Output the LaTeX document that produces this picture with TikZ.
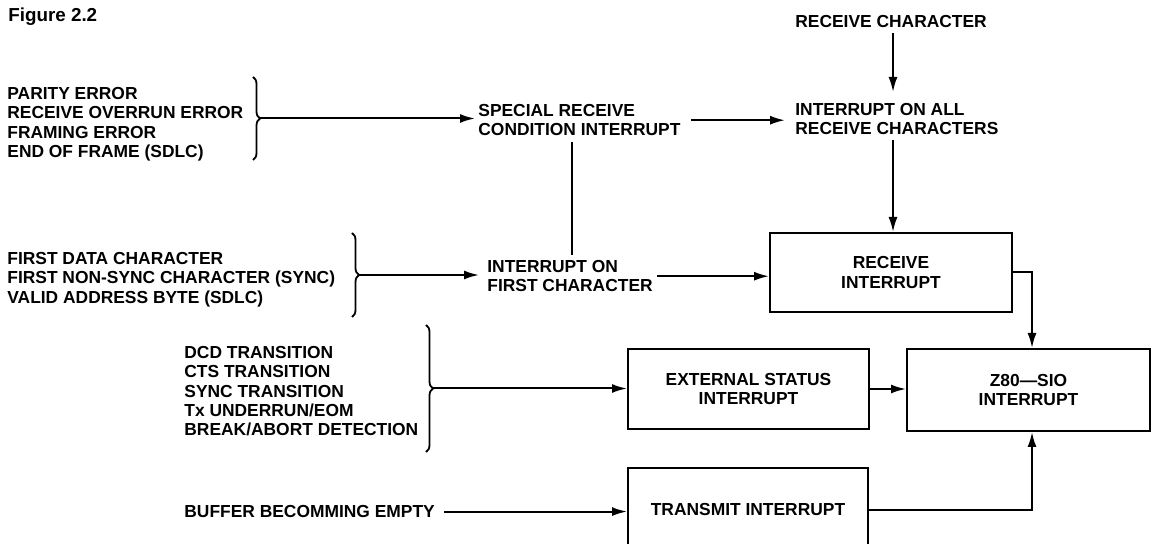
\documentclass[tikz,border=0pt]{standalone}
\usepackage{fontspec}
\setmainfont{Liberation Sans}
\usetikzlibrary{arrows.meta,decorations.pathreplacing}
\begin{document}
\begin{tikzpicture}[x=0.5pt,y=-0.5pt,
  txt/.style={inner sep=0pt, anchor=north west, align=left,
    font=\fontsize{8.7}{9.65}\selectfont\bfseries},
  boxnode/.style={draw, line width=1pt, inner sep=0pt, align=center,
    font=\fontsize{8.7}{9.65}\selectfont\bfseries},
  arr/.style={line width=1pt, -{Latex[length=7.5pt,width=4.5pt]}},
  plain/.style={line width=1pt},
  brc/.style={decorate, decoration={brace, amplitude=3.5pt}, line width=0.9pt}]
\path[fill=white, use as bounding box] (0,0) rectangle (1152,544);

% text nodes
\node[txt, font=\fontsize{9.4}{11}\selectfont\bfseries] (fig) at (8,7) {Figure 2.2};
\node[txt] (g1) at (7,87) {PARITY ERROR\\RECEIVE OVERRUN ERROR\\FRAMING ERROR\\END OF FRAME (SDLC)};
\node[txt] (g2) at (7,252) {FIRST DATA CHARACTER\\FIRST NON-SYNC CHARACTER (SYNC)\\VALID ADDRESS BYTE (SDLC)};
\node[txt] (g3) at (184,346) {DCD TRANSITION\\CTS TRANSITION\\SYNC TRANSITION\\Tx UNDERRUN/EOM\\BREAK/ABORT DETECTION};
\node[txt] (buf) at (184,505) {BUFFER BECOMMING EMPTY};
\node[txt] (spec) at (478,104) {SPECIAL RECEIVE\\CONDITION INTERRUPT};
\node[txt] (fc) at (487,260) {INTERRUPT ON\\FIRST CHARACTER};
\node[txt] (rch) at (795,15) {RECEIVE CHARACTER};
\node[txt] (all) at (795,103) {INTERRUPT ON ALL\\RECEIVE CHARACTERS};

% boxes
\node[boxnode, minimum width=121pt, minimum height=39.5pt] (recv) at (891,272.5) {RECEIVE\\INTERRUPT};
\node[boxnode, minimum width=120.5pt, minimum height=40pt] (ext) at (748.5,389) {EXTERNAL STATUS\\INTERRUPT};
\node[boxnode, minimum width=121.5pt, minimum height=41pt] (z80) at (1028.5,390) {Z80—SIO\\INTERRUPT};
\node[boxnode, minimum width=120pt, minimum height=42pt] (tx) at (748,510) {TRANSMIT INTERRUPT};

% helper coordinates
\coordinate (b1) at (260,118.5);
\coordinate (b2) at (359,275);
\coordinate (b3) at (433,388.5);
\coordinate (vx) at (572,0);
\coordinate (ax) at (893,0);
\coordinate (zx) at (1032,0);

% braces
\draw[brc] (253,77) -- (253,160);
\draw[brc] (352,233) -- (352,317);
\draw[brc] (426,325) -- (426,452);

% connectors
\draw[arr, shorten >=1.5pt] (b1) -- (b1 -| spec.west);
\draw[arr, shorten <=5pt, shorten >=5pt] (spec.east) -- (spec.east -| all.west);
\draw[plain, shorten <=3pt, shorten >=2.5pt] (spec.south -| vx) -- (fc.north -| vx);
\draw[arr, shorten <=2.25pt, shorten >=5.5pt] (rch.south -| ax) -- (all.north -| ax);
\draw[arr, shorten <=2.5pt] (all.south -| ax) -- (recv.north -| ax);
\draw[arr, shorten >=4pt] (b2) -- (b2 -| fc.west);
\draw[arr, shorten <=2pt] (fc.east) -- (fc.east -| recv.west);
\draw[arr] (recv.east) -| (zx |- z80.north);
\draw[arr] (ext.east) -- (ext.east -| z80.west);
\draw[arr] (tx.east) -| (zx |- z80.south);
\draw[arr] (b3) -- (b3 -| ext.west);
\draw[arr, shorten <=4.5pt] (buf.east) -- (buf.east -| tx.west);
\end{tikzpicture}
\end{document}
